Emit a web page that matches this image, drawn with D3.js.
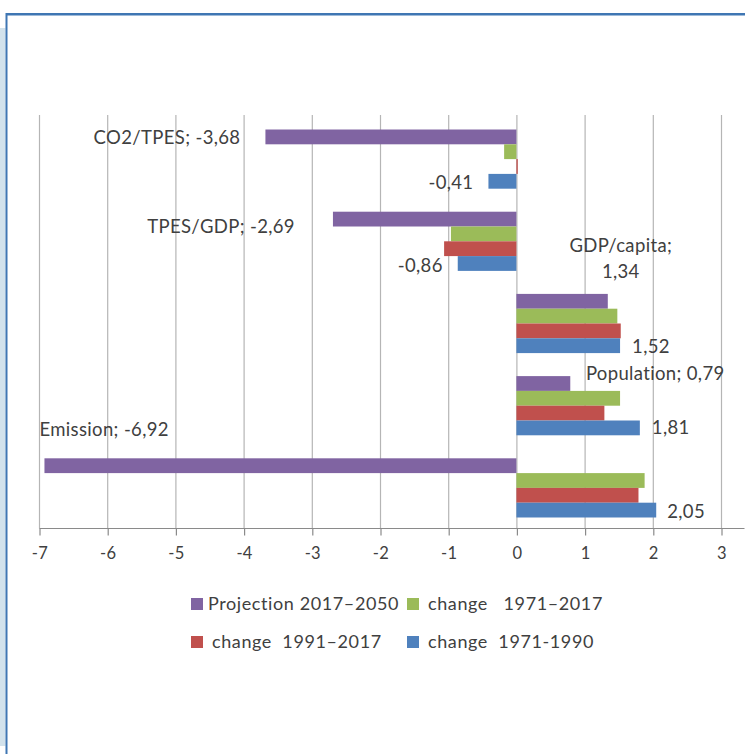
<!DOCTYPE html>
<html>
<head>
<meta charset="utf-8">
<script src="https://cdn.jsdelivr.net/npm/d3@7"></script>
<style>
  html, body { margin: 0; padding: 0; background: #fff; }
  svg { display: block; }
  text { font-family: Lato, "Open Sans", sans-serif; fill: #404040; }
</style>
</head>
<body>
<svg id="chart" width="745" height="754"></svg>
<script>
// ---- data ----
const categories = ["CO2/TPES", "TPES/GDP", "GDP/capita", "Population", "Emission"];
const seriesNames = ["Projection 2017–2050", "change   1971–2017", "change  1991–2017", "change  1971-1990"];
const seriesColors = ["#8064a2", "#9bbb59", "#c0504d", "#4f81bd"];
const projection2017_2050 = [-3.68, -2.69, 1.34, 0.79, -6.92];
const change1971_2017 = [-0.18, -0.96, 1.48, 1.52, 1.88];
const change1991_2017 = [0.02, -1.06, 1.53, 1.29, 1.79];
const change1971_1990 = [-0.41, -0.86, 1.52, 1.81, 2.05];
const xTicks = [-7, -6, -5, -4, -3, -2, -1, 0, 1, 2, 3];
const labelTexts = [
  ["CO2/TPES; -3,68"], ["-0,41"], ["TPES/GDP; -2,69"], ["-0,86"],
  ["GDP/capita;", "1,34"], ["1,52"], ["Population; 0,79"], ["1,81"],
  ["Emission; -6,92"], ["2,05"]
];
// which data point each label belongs to: [categoryIndex, seriesIndex]
const labelPoints = [[0,0],[0,3],[1,0],[1,3],[2,0],[2,3],[3,0],[3,3],[4,0],[4,3]];

const allSeries = [projection2017_2050, change1971_2017, change1991_2017, change1971_1990];

// ---- layout ----
const svg = d3.select("#chart");
const plotTop = 118, plotBottom = 529, axisY = 528.5;
const x = d3.scaleLinear().domain([-7, 3]).range([39, 721]);
const y = d3.scaleBand().domain(categories).range([plotTop, plotBottom])
  .paddingInner(0.28).paddingOuter(0.14);
const ySub = d3.scaleBand().domain(d3.range(4)).range([0, y.bandwidth()]);

// frame decoration
svg.append("rect").attr("x", 0).attr("y", 28).attr("width", 5.5).attr("height", 718).attr("fill", "#d2e2ec");
svg.append("line").attr("x1", 6).attr("x2", 745).attr("y1", 14.3).attr("y2", 14.3)
  .attr("stroke", "#3f76b3").attr("stroke-width", 2.5);
svg.append("line").attr("x1", 6.5).attr("x2", 6.5).attr("y1", 13).attr("y2", 754)
  .attr("stroke", "#3f76b3").attr("stroke-width", 2);

// gridlines
svg.append("g").selectAll("line").data(xTicks).join("line")
  .attr("x1", d => x(d) + 0.5).attr("x2", d => x(d) + 0.5)
  .attr("y1", 115).attr("y2", axisY)
  .attr("stroke", "#b5b5b5").attr("stroke-width", 1.2);

// bars
const rows = [];
categories.forEach((c, ci) => allSeries.forEach((s, si) => rows.push({c, ci, si, v: s[ci]})));
svg.append("g").selectAll("rect").data(rows).join("rect")
  .attr("x", d => Math.min(x(0), x(d.v)))
  .attr("width", d => Math.abs(x(d.v) - x(0)))
  .attr("y", d => y(d.c) + ySub(d.si))
  .attr("height", ySub.bandwidth())
  .attr("fill", d => seriesColors[d.si]);

// axis
const axis = d3.axisBottom(x).tickValues(xTicks).tickSize(7).tickPadding(9)
  .tickFormat(d => d < 0 ? "-" + Math.abs(d) : String(d));
const ax = svg.append("g").attr("transform", `translate(0.5,${axisY})`).call(axis);
ax.select(".domain").attr("d", `M${x(-7)},0H744`).attr("stroke", "#8a8a8a").attr("stroke-width", 1.2);
ax.selectAll(".tick line").attr("stroke", "#8a8a8a").attr("stroke-width", 1.2);
ax.selectAll(".tick text").style("font-family", "Lato, sans-serif").style("font-size", "16.5px")
  .style("letter-spacing", "0.3px")
  .attr("fill", "#383838").attr("dy", "0.9em");

// data labels (offsets relative to the bar's value end and its centre)
const labelOffsets = [
  {dx: -25, dy: 7.5, anchor: "end"},
  {dx: -15, dy: 7.7, anchor: "end"},
  {dx: -38, dy: 13.5, anchor: "end"},
  {dx: -15, dy: 8.5, anchor: "end"},
  {dx: 13, dy: -49, anchor: "middle", lineGap: 26},
  {dx: 12, dy: 7, anchor: "start"},
  {dx: 15.6, dy: -3.7, anchor: "start"},
  {dx: 12, dy: 6.3, anchor: "start"},
  {dx: -5, dy: -30, anchor: "start"},
  {dx: 11, dy: 7.5, anchor: "start"}
];
const lg = svg.append("g");
labelPoints.forEach(([ci, si], i) => {
  const v = allSeries[si][ci];
  const cx = x(v);
  const cy = y(categories[ci]) + ySub(si) + ySub.bandwidth() / 2;
  const o = labelOffsets[i];
  labelTexts[i].forEach((t, li) => {
    lg.append("text")
      .attr("x", cx + o.dx)
      .attr("y", cy + o.dy + li * (o.lineGap || 0))
      .attr("text-anchor", o.anchor)
      .style("font-size", "18.5px")
      .style("letter-spacing", "0.35px")
      .text(t);
  });
});

// legend
const legendItems = [
  {sx: 191, sy: 598, tx: 208, ty: 609.5},
  {sx: 407, sy: 598, tx: 428, ty: 609.5},
  {sx: 191, sy: 636, tx: 212, ty: 648},
  {sx: 407, sy: 636, tx: 428, ty: 648}
];
const leg = svg.append("g");
seriesNames.forEach((n, i) => {
  const p = legendItems[i];
  leg.append("rect").attr("x", p.sx).attr("y", p.sy).attr("width", 12).attr("height", 12)
    .attr("fill", seriesColors[i]);
  leg.append("text").attr("x", p.tx).attr("y", p.ty)
    .attr("xml:space", "preserve").style("white-space", "pre")
    .style("font-size", "18px").style("letter-spacing", "0.6px").text(n);
});
</script>
</body>
</html>
